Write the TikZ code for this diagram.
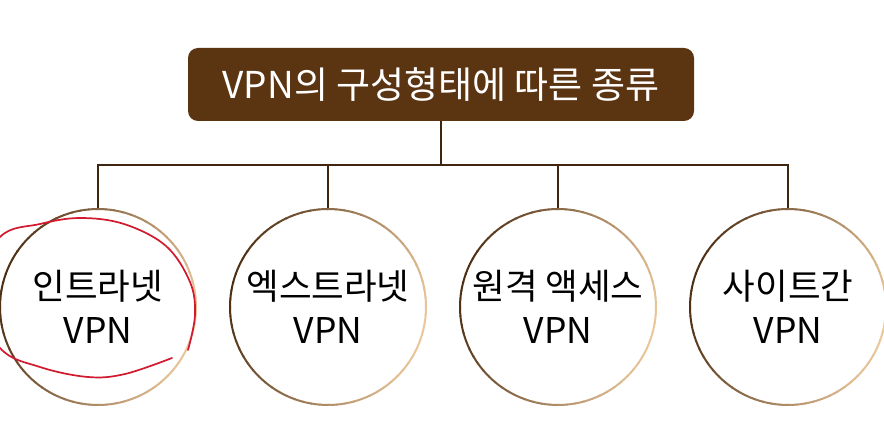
\documentclass[tikz,border=0pt]{standalone}
\usepackage{fontspec}
\newfontfamily\kr{Noto Sans CJK KR}
\definecolor{titlefill}{HTML}{5B3412}
\definecolor{linecol}{HTML}{3E2610}
\definecolor{cdark}{HTML}{4E2F14}
\definecolor{clight}{HTML}{EBC79A}
\definecolor{redmark}{HTML}{D2192E}
\tikzset{
  titlebox/.style={fill=titlefill, rounded corners=10pt, minimum width=506pt, minimum height=73pt, inner sep=0pt, text=white, font=\kr\fontsize{37}{42}\selectfont},
  vpncircle/.style={circle, minimum size=196pt, inner sep=0pt, outer sep=0pt, align=center, font=\kr\fontsize{35.5}{44}\selectfont, text=black},
  connector/.style={draw=linecol, line width=1.6pt},
  ring/.style={line width=2pt},
  redpen/.style={draw=redmark, line width=1.7pt, line cap=round}
}
\begin{document}
\begin{tikzpicture}[x=1pt,y=-1pt]
\useasboundingbox (0,0) rectangle (884,438);
\clip (0,0) rectangle (884,438);
\fill[white] (0,0) rectangle (884,438);
\node[titlebox] (title) at (441,84.5) {VPN의 구성형태에 따른 종류};
\coordinate (bar) at (441,165);
\node[vpncircle] (c1) at (98,307) {인트라넷\\VPN};
\node[vpncircle] (c2) at (328,307) {엑스트라넷\\VPN};
\node[vpncircle] (c3) at (558,307) {원격 액세스\\VPN};
\node[vpncircle] (c4) at (788,307) {사이트간\\VPN};
\draw[connector] (title.south) -- (bar);
\draw[connector] (c1.north) -- (c1.north |- bar) -- (c4.north |- bar) -- (c4.north);
\draw[connector] (c2.north) -- (c2.north |- bar);
\draw[connector] (c3.north) -- (c3.north |- bar);
\foreach \c in {c1,c2,c3,c4}{
  \foreach \a in {0,5,...,355}{
    \pgfmathsetmacro\p{50*(1+cos(\a+2.5-165))}
    \draw[ring, cdark!\p!clight] (\c.\a) arc[start angle=\a, end angle=\a+5.6, radius=98pt];
  }
}
\draw[redpen] plot[smooth, tension=0.6] coordinates {(188,350) (195,315) (190,282) (166,246) (124,224) (80,218) (40,224) (0,237) (-28,292) (0,348) (40,367) (88,377) (125,374) (172,358)};
\end{tikzpicture}
\end{document}
